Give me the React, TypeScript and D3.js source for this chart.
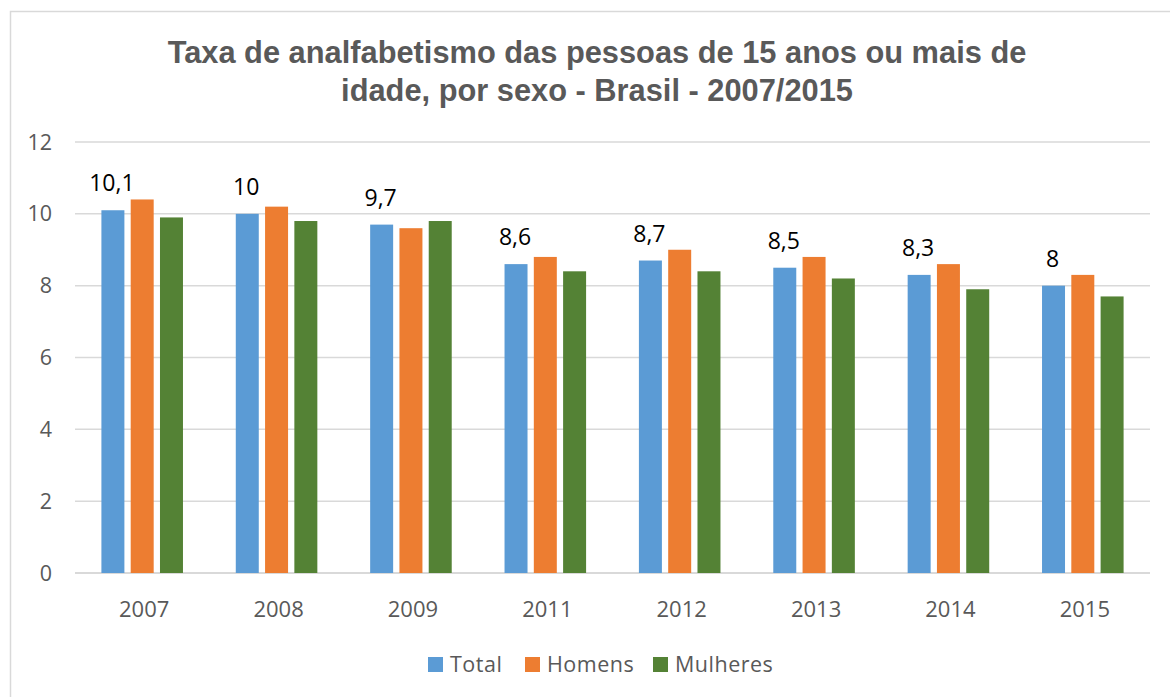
import React from "react";
import * as d3 from "d3";

const years = ["2007", "2008", "2009", "2011", "2012", "2013", "2014", "2015"];
const seriesNames = ["Total", "Homens", "Mulheres"];
const total = [10.1, 10.0, 9.7, 8.6, 8.7, 8.5, 8.3, 8.0];
const homens = [10.4, 10.2, 9.6, 8.8, 9.0, 8.8, 8.6, 8.3];
const mulheres = [9.9, 9.8, 9.8, 8.4, 8.4, 8.2, 7.9, 7.7];
const yTicks = [0, 2, 4, 6, 8, 10, 12];
const colors = ["#5B9BD5", "#ED7D31", "#548235"];
const titleLines = [
  "Taxa de analfabetismo das pessoas de 15 anos ou mais de",
  "idade, por sexo - Brasil - 2007/2015",
];

const W = 1170;
const H = 697;
const plot = { left: 75, right: 1150, top: 142, bottom: 573 };
const textGray = "#595959";
const font = "'Open Sans', sans-serif";

export default function App() {
  const seriesValues = [total, homens, mulheres];
  const x0 = d3
    .scaleBand<string>()
    .domain(years)
    .range([plot.left, plot.right])
    .paddingInner(0.393)
    .paddingOuter(0.1965);
  const x1 = d3
    .scaleBand<string>()
    .domain(seriesNames)
    .range([0, x0.bandwidth()])
    .paddingInner(0.215);
  const y = d3.scaleLinear().domain([0, 12]).range([plot.bottom, plot.top]);
  const fmt = (v: number) => String(v).replace(".", ",");

  const legendX = [428, 525, 653];

  return (
    <svg
      width={W}
      height={H}
      style={{ position: "absolute", left: 0, top: 0, background: "#fff" }}
    >
      <rect x={0} y={0} width={W} height={H} fill="#fff" />
      <rect x={10.5} y={11.5} width={1200} height={720} fill="none" stroke="#D9D9D9" strokeWidth={1.5} />
      {titleLines.map((t, i) => (
        <text
          key={i}
          x={597}
          y={63 + i * 38}
          textAnchor="middle"
          fontFamily="'Liberation Sans', Arial, sans-serif"
          fontWeight="bold"
          fontSize={30.8}
          fill={textGray}
        >
          {t}
        </text>
      ))}
      {yTicks.map((t) => (
        <g key={t}>
          <line
            x1={plot.left}
            x2={plot.right}
            y1={y(t)}
            y2={y(t)}
            stroke="#D9D9D9"
            strokeWidth={t === 0 ? 2 : 1.5}
          />
          <text
            x={52}
            y={y(t)}
            dy="0.35em"
            textAnchor="end"
            fontFamily={font}
            fontSize={21.5}
            fill={textGray}
          >
            {t}
          </text>
        </g>
      ))}
      {years.map((yr, i) => (
        <g key={yr}>
          {seriesNames.map((s, j) => {
            const v = seriesValues[j][i];
            const bx = (x0(yr) as number) + (x1(s) as number);
            return (
              <rect
                key={s}
                x={bx}
                y={y(v)}
                width={x1.bandwidth()}
                height={y(0) - y(v)}
                fill={colors[j]}
              />
            );
          })}
          <text
            x={(x0(yr) as number) + (x1("Total") as number) + x1.bandwidth() / 2 - 1}
            y={y(total[i]) - 19}
            textAnchor="middle"
            fontFamily={font}
            fontSize={23}
            fill="#000"
          >
            {fmt(total[i])}
          </text>
          <text
            x={(x0(yr) as number) + x0.bandwidth() / 2 + 2}
            y={617}
            textAnchor="middle"
            fontFamily={font}
            fontSize={22}
            fill={textGray}
          >
            {yr}
          </text>
        </g>
      ))}
      {seriesNames.map((s, j) => (
        <g key={s}>
          <rect x={legendX[j]} y={657} width={15} height={15} fill={colors[j]} />
          <text
            x={legendX[j] + 22}
            y={672}
            fontFamily={font}
            fontSize={21.5}
            letterSpacing={0.5}
            fill={textGray}
          >
            {s}
          </text>
        </g>
      ))}
    </svg>
  );
}
